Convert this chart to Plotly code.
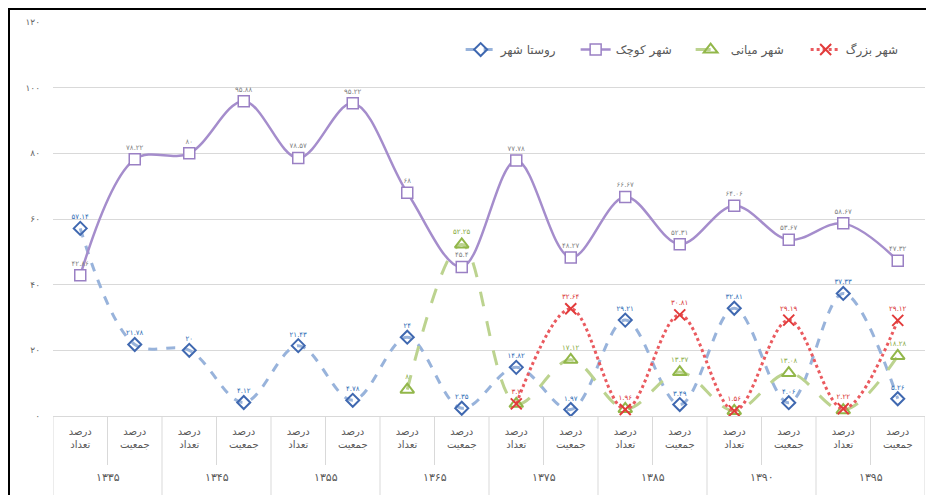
import plotly.graph_objects as go

years = ["۱۳۳۵", "۱۳۴۵", "۱۳۵۵", "۱۳۶۵", "۱۳۷۵", "۱۳۸۵", "۱۳۹۰", "۱۳۹۵"]
subcats = ["درصد<br>تعداد", "درصد<br>جمعیت"]

rural_town = [57.14, 21.78, 20, 4.12, 21.43, 4.78, 24, 2.35, 14.82, 1.97, 29.21, 3.49, 32.81, 4.06, 37.33, 5.26]
small_city = [42.86, 78.22, 80, 95.88, 78.57, 95.22, 68, 45.4, 77.78, 48.27, 66.67, 52.31, 64.06, 53.67, 58.67, 47.32]
medium_city = [None, None, None, None, None, None, 8, 52.25, 3.7, 17.12, 2.16, 13.37, 1.56, 13.08, 1.78, 18.28]
large_city = [None, None, None, None, None, None, None, None, 3.7, 32.64, 1.96, 30.81, 1.56, 29.19, 2.22, 29.12]

series_names = ["روستا شهر", "شهر کوچک", "شهر میانی", "شهر بزرگ"]
medium_hidden_labels = [8, 10, 12, 14]

y_ticks = [0, 20, 40, 60, 80, 100, 120]

FA = str.maketrans("0123456789", "۰۱۲۳۴۵۶۷۸۹")


def fa(v):
    return f"{v:g}".translate(FA)


def labels(vals, hide=()):
    return ["" if (v is None or i in hide) else fa(v) for i, v in enumerate(vals)]


# unique category keys, one per (year, sub-category)
cat_keys = [f"{y}|{s}" for y in years for s in subcats]
cat_text = [s for _ in years for s in subcats]

FONT = "DejaVu Sans"
GRID = "#d9d9d9"

fig = go.Figure()

fig.add_trace(go.Scatter(
    x=cat_keys, y=rural_town, name=series_names[0], mode="lines+markers+text",
    line=dict(color="#98b3db", width=3, dash="dash", shape="spline", smoothing=1),
    marker=dict(symbol="diamond-open", size=10, color="#3f68b0", line=dict(width=2, color="#3f68b0")),
    text=labels(rural_town), textposition="top center",
    textfont=dict(family=FONT, size=7, color="#2f6db5"), cliponaxis=False,
))
fig.add_trace(go.Scatter(
    x=cat_keys, y=small_city, name=series_names[1], mode="lines+markers+text",
    line=dict(color="#a58dcc", width=2.5, shape="spline", smoothing=1),
    marker=dict(symbol="square", size=11, color="white", line=dict(width=1.5, color="#9a80c4")),
    text=labels(small_city), textposition="top center",
    textfont=dict(family=FONT, size=7, color="#7f7f7f"), cliponaxis=False,
))
fig.add_trace(go.Scatter(
    x=cat_keys, y=medium_city, name=series_names[2], mode="lines+markers+text",
    line=dict(color="#bcd38f", width=3, dash="longdash", shape="spline", smoothing=1),
    marker=dict(symbol="triangle-up-open", size=12, color="#92b74a", line=dict(width=2, color="#92b74a")),
    text=labels(medium_city, medium_hidden_labels), textposition="top center",
    textfont=dict(family=FONT, size=7, color="#8aab45"), cliponaxis=False,
))
fig.add_trace(go.Scatter(
    x=cat_keys, y=large_city, name=series_names[3], mode="lines+markers+text",
    line=dict(color="#ea5a5f", width=3, dash="dot", shape="spline", smoothing=1),
    marker=dict(symbol="x-thin-open", size=11, color="#e23b3b", line=dict(width=2, color="#e23b3b")),
    text=labels(large_city), textposition="top center",
    textfont=dict(family=FONT, size=7, color="#d93636"), cliponaxis=False,
))

fig.update_layout(
    width=926, height=487,
    margin=dict(l=45, r=9, t=14, b=79),
    paper_bgcolor="white", plot_bgcolor="white",
    font=dict(family=FONT, size=10, color="#595959"),
    legend=dict(orientation="h", x=0.995, xanchor="right", y=0.93, yanchor="middle",
                font=dict(family=FONT, size=12, color="#595959"), bgcolor="rgba(0,0,0,0)",
                entrywidth=70, entrywidthmode="pixels"),
    showlegend=True,
)

fig.update_yaxes(
    range=[0, 120], tickvals=y_ticks, ticktext=[fa(v) for v in y_ticks],
    showgrid=True, gridcolor=GRID, gridwidth=1, zeroline=False,
    showline=False, tickfont=dict(size=9, color="#666666"), ticks="", ticklabelstandoff=12,
)
fig.update_xaxes(
    type="category", categoryorder="array", categoryarray=cat_keys,
    tickvals=cat_keys, ticktext=cat_text, range=[-0.5, len(cat_keys) - 0.5],
    showgrid=False, showline=True, linecolor=GRID, ticks="", ticklabelstandoff=6,
    tickfont=dict(size=10, color="#595959"),
)

plot_h = 487 - 14 - 79
inner_depth = -(49 / plot_h)
outer_depth = -(90 / plot_h)
n = len(cat_keys)
for i in range(n + 1):
    outer = (i % len(subcats) == 0)
    fig.add_shape(type="line", xref="x", yref="paper",
                  x0=i - 0.5, x1=i - 0.5, y0=0, y1=outer_depth if outer else inner_depth,
                  line=dict(color=GRID, width=1))

for k, yr in enumerate(years):
    fig.add_annotation(x=k * len(subcats) + 0.5, xref="x", y=-(62 / plot_h), yref="paper",
                       text=yr, showarrow=False, yanchor="middle",
                       font=dict(family=FONT, size=11, color="#595959"))

plot_w = 926 - 45 - 9
fig.add_shape(type="rect", xref="paper", yref="paper",
              x0=-44 / plot_w, x1=(924 - 45) / plot_w, y0=-0.3, y1=(plot_h + 13) / plot_h,
              line=dict(color="black", width=2), fillcolor="rgba(0,0,0,0)", layer="above")

fig.write_html("out.html")
